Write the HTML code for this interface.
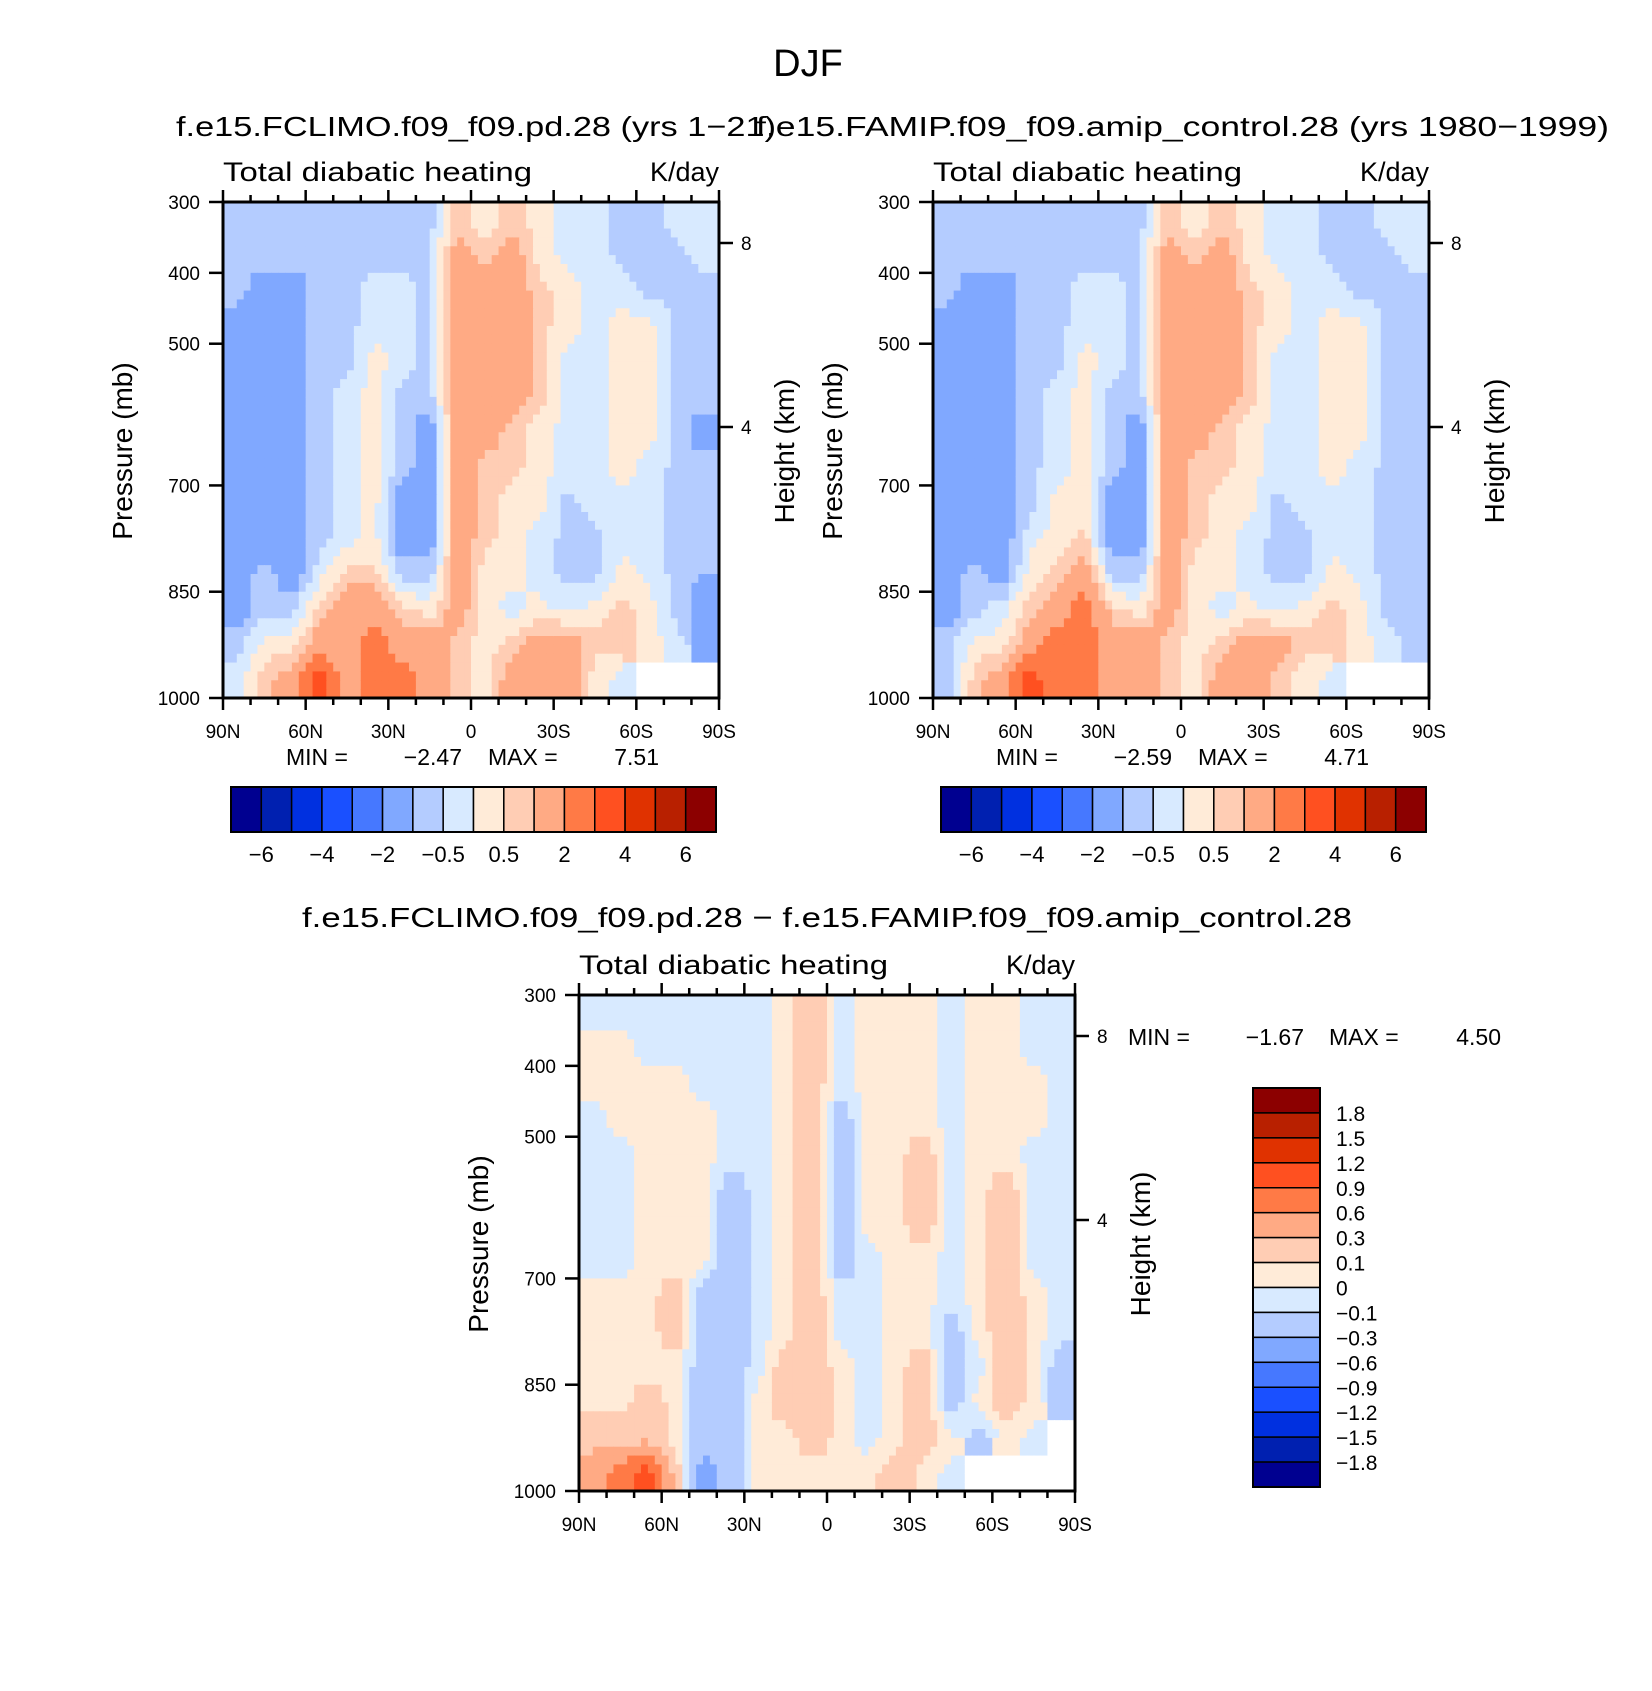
<!DOCTYPE html>
<html><head><meta charset="utf-8"><style>
html,body{margin:0;padding:0;background:#fff}
svg{display:block;font-family:"Liberation Sans",sans-serif}
</style></head><body>
<svg id="fig" width="1652" height="1691" viewBox="0 0 1652 1691" xmlns="http://www.w3.org/2000/svg">
<rect width="1652" height="1691" fill="#fff"/>
<text x="808" y="76" font-size="38" text-anchor="middle">DJF</text>
<g id="g1"></g><g id="g2"></g><g id="g3"></g>
</svg>
<script>
const lats=[85,75,65,55,45,35,25,15,5,-5,-15,-25,-35,-45,-55,-65,-75,-85];
const pres=[325,375,425,475,525,575,625,675,725,775,825,875,925,975];
const palette=["#000090","#0020b0","#0030e0","#1a50ff","#4678ff","#80a8ff","#b4ccff","#d8eaff","#ffebd8","#ffcdb4","#ffaa84","#ff7a46","#ff5020","#e03200","#b82000","#8c0000"];
const levelsAbs=[-6,-5,-4,-3,-2,-1,-0.5,0,0.5,1,2,3,4,5,6];
const levelsDiff=[-1.8,-1.5,-1.2,-0.9,-0.6,-0.3,-0.1,0,0.1,0.3,0.6,0.9,1.2,1.5,1.8];
const cbLabelsAbs=["−6","−4","−2","−0.5","0.5","2","4","6"];
const cbLabelsDiff=["1.8","1.5","1.2","0.9","0.6","0.3","0.1","0","−0.1","−0.3","−0.6","−0.9","−1.2","−1.5","−1.8"];
const latTicks=["90N","60N","30N","0","30S","60S","90S"];
const presTicks=[300,400,500,700,850,1000];
const N=NaN;
const field1=[
[-0.7,-0.7,-0.7,-0.7,-0.7,-0.7,-0.7,-0.7,0.7,0.2,0.7,0.2,-0.2,-0.2,-0.7,-0.7,-0.2,-0.2],
[-0.7,-0.7,-0.7,-0.7,-0.7,-0.7,-0.7,-0.7,1.5,0.7,1.5,0.2,-0.2,-0.2,-0.7,-0.7,-0.7,-0.2],
[-0.7,-1.5,-1.5,-0.7,-0.7,-0.2,-0.2,-0.7,1.5,1.5,1.5,0.7,0.2,-0.2,-0.2,-0.7,-0.7,-0.7],
[-1.5,-1.5,-1.5,-0.7,-0.7,-0.2,-0.2,-0.7,1.5,1.5,1.5,0.7,0.2,-0.2,0.2,0.2,-0.7,-0.7],
[-1.5,-1.5,-1.5,-0.7,-0.7,0.2,-0.2,-0.7,1.5,1.5,1.5,0.7,-0.2,-0.2,0.2,0.2,-0.7,-0.7],
[-1.5,-1.5,-1.5,-0.7,-0.2,0.2,-0.7,-0.7,1.5,1.5,1.5,0.7,-0.2,-0.2,0.2,0.2,-0.7,-0.7],
[-1.5,-1.5,-1.5,-0.7,-0.2,0.2,-0.7,-1.5,1.5,1.5,0.7,0.2,-0.2,-0.2,0.2,0.2,-0.7,-1.5],
[-1.5,-1.5,-1.5,-0.7,-0.2,0.2,-0.7,-1.5,1.5,0.7,0.7,0.2,-0.2,-0.2,0.2,-0.2,-0.7,-0.7],
[-1.5,-1.5,-1.5,-0.7,-0.2,0.2,-1.5,-1.5,1.5,0.7,0.2,0.2,-0.7,-0.2,-0.2,-0.2,-0.7,-0.7],
[-1.5,-1.5,-1.5,-0.7,-0.2,0.2,-1.5,-1.5,1.5,0.7,0.2,-0.2,-0.7,-0.7,-0.2,-0.2,-0.7,-0.7],
[-1.5,-0.7,-1.5,-0.2,0.7,0.7,-0.7,-0.7,1.5,0.2,0.2,-0.2,-0.7,-0.7,0.2,-0.2,-0.7,-1.0],
[-1.5,-0.7,-0.7,0.7,1.5,1.5,0.7,0.2,1.5,0.2,-0.2,0.2,-0.2,0.2,0.7,0.2,-0.7,-1.5],
[-0.7,0.2,0.2,1.5,1.5,2.5,1.5,1.5,0.7,0.2,0.7,1.5,1.5,0.7,0.7,0.2,-0.2,-1.5],
[-0.2,0.7,1.5,3.5,1.5,2.5,2.5,1.5,0.7,0.2,1.5,1.5,1.5,0.2,-0.2,N,N,N]];
const field2=[
[-0.7,-0.7,-0.7,-0.7,-0.7,-0.7,-0.7,-0.7,0.7,0.2,0.7,0.2,-0.2,-0.2,-0.7,-0.7,-0.2,-0.2],
[-0.7,-0.7,-0.7,-0.7,-0.7,-0.7,-0.7,-0.7,1.5,0.7,1.5,0.2,-0.2,-0.2,-0.7,-0.7,-0.7,-0.2],
[-0.7,-1.5,-1.5,-0.7,-0.7,-0.2,-0.2,-0.7,1.5,1.5,1.5,0.7,0.2,-0.2,-0.2,-0.7,-0.7,-0.7],
[-1.5,-1.5,-1.5,-0.7,-0.7,-0.2,-0.2,-0.7,1.5,1.5,1.5,0.7,0.2,-0.2,0.2,0.2,-0.7,-0.7],
[-1.5,-1.5,-1.5,-0.7,-0.7,0.2,-0.2,-0.7,1.5,1.5,1.5,0.7,-0.2,-0.2,0.2,0.2,-0.7,-0.7],
[-1.5,-1.5,-1.5,-0.7,-0.2,0.2,-0.7,-0.7,1.5,1.5,1.5,0.7,-0.2,-0.2,0.2,0.2,-0.7,-0.7],
[-1.5,-1.5,-1.5,-0.7,-0.2,0.2,-0.7,-1.5,1.5,1.5,0.7,0.2,-0.2,-0.2,0.2,0.2,-0.7,-0.7],
[-1.5,-1.5,-1.5,-0.7,-0.2,0.2,-0.7,-1.5,1.5,0.7,0.7,0.2,-0.2,-0.2,0.2,-0.2,-0.7,-0.7],
[-1.5,-1.5,-1.5,-0.7,0.2,0.2,-1.5,-1.5,1.5,0.7,0.2,0.2,-0.7,-0.2,-0.2,-0.2,-0.7,-0.7],
[-1.5,-1.5,-1.5,-0.2,0.2,0.7,-1.5,-1.5,1.5,0.7,0.2,-0.2,-0.7,-0.7,-0.2,-0.2,-0.7,-0.7],
[-1.5,-0.7,-1.5,0.2,0.7,1.5,-0.7,-0.7,1.5,0.2,0.2,-0.2,-0.7,-0.7,0.2,-0.2,-0.7,-0.7],
[-1.5,-0.7,-0.2,0.7,1.5,2.5,0.7,0.2,1.5,0.2,-0.2,0.2,-0.2,0.2,0.7,0.2,-0.7,-0.7],
[-0.7,0.2,0.2,1.5,2.5,2.5,1.5,1.5,0.7,0.2,0.7,1.5,1.5,0.7,0.7,0.2,-0.2,-0.7],
[-0.7,0.7,1.5,3.5,2.5,2.5,1.5,1.5,0.7,0.2,1.5,1.5,0.7,0.2,-0.2,N,N,N]];
const field3=[
[-0.05,-0.05,-0.05,-0.05,-0.05,-0.05,-0.05,0.05,0.2,-0.05,0.05,0.05,0.05,-0.05,0.05,0.05,-0.05,-0.05],
[0.05,0.05,-0.05,-0.05,-0.05,-0.05,-0.05,0.05,0.2,-0.05,0.05,0.05,0.05,-0.05,0.05,0.05,-0.05,-0.05],
[0.05,0.05,0.05,0.05,-0.05,-0.05,-0.05,0.05,0.2,-0.05,0.05,0.05,0.05,-0.05,0.05,0.05,0.05,-0.05],
[-0.05,0.05,0.05,0.05,0.05,-0.05,-0.05,0.05,0.2,-0.2,0.05,0.05,0.05,-0.05,0.05,0.05,0.05,-0.05],
[-0.05,-0.05,0.05,0.05,0.05,-0.05,-0.05,0.05,0.2,-0.2,0.05,0.05,0.2,-0.05,0.05,0.05,-0.05,-0.05],
[-0.05,-0.05,0.05,0.05,0.05,-0.2,-0.05,0.05,0.2,-0.2,0.05,0.05,0.2,-0.05,0.05,0.2,-0.05,-0.05],
[-0.05,-0.05,0.05,0.05,0.05,-0.2,-0.05,0.05,0.2,-0.2,0.05,0.05,0.2,-0.05,0.05,0.2,-0.05,-0.05],
[-0.05,-0.05,0.05,0.05,0.05,-0.2,-0.05,0.05,0.2,-0.2,-0.05,0.05,0.05,-0.05,0.05,0.2,-0.05,-0.05],
[0.05,0.05,0.05,0.2,-0.2,-0.2,-0.05,0.05,0.2,-0.05,-0.05,0.05,0.05,-0.05,0.05,0.2,0.05,-0.05],
[0.05,0.05,0.05,0.2,-0.2,-0.2,-0.05,0.05,0.2,-0.05,-0.05,0.05,0.05,-0.2,0.05,0.2,0.05,-0.05],
[0.05,0.05,0.05,0.05,-0.2,-0.2,-0.05,0.2,0.2,0.05,-0.05,0.05,0.2,-0.2,-0.05,0.2,0.05,-0.2],
[0.05,0.05,0.2,0.05,-0.2,-0.2,0.05,0.2,0.2,0.05,-0.05,0.05,0.2,-0.2,0.05,0.2,0.05,-0.2],
[0.2,0.2,0.2,0.05,-0.2,-0.2,0.05,0.05,0.2,0.05,-0.05,0.05,0.2,0.05,-0.2,0.05,-0.05,N],
[0.45,0.75,1.05,0.2,-0.45,-0.2,0.05,0.05,0.05,0.05,0.05,0.2,0.05,-0.05,N,N,N,N]];

const NS="http://www.w3.org/2000/svg";
function mk(parent,tag,attrs,text){const e=document.createElementNS(NS,tag);for(const k in attrs)e.setAttribute(k,attrs[k]);if(text!==undefined)e.textContent=text;parent.appendChild(e);return e;}
function colorFor(v,levels){if(isNaN(v))return "#ffffff";let i=0;while(i<levels.length&&v>=levels[i])i++;return palette[i];}
function sample(f,fi,fj){
  fi=Math.max(0,Math.min(lats.length-1,fi));fj=Math.max(0,Math.min(pres.length-1,fj));
  const i0=Math.floor(fi),j0=Math.floor(fj),i1=Math.min(i0+1,lats.length-1),j1=Math.min(j0+1,pres.length-1);
  const a=fi-i0,b=fj-j0;
  const v00=f[j0][i0],v10=f[j0][i1],v01=f[j1][i0],v11=f[j1][i1];
  if([v00,v10,v01,v11].some(isNaN)){const ni=a<0.5?i0:i1,nj=b<0.5?j0:j1;return f[nj][ni];}
  return v00*(1-a)*(1-b)+v10*a*(1-b)+v01*(1-a)*b+v11*a*b;
}
function panel(g,L,T,field,levels,opts){
  const W=496,H=496;
  const xs=lat=>L+(90-lat)/180*W;
  const ys=p=>T+(p-300)/700*H;
  const cells=mk(g,'g',{});
  
  
  const sub=4;
  for(let j=0;j<pres.length;j++)for(let i=0;i<lats.length;i++){
    for(let sj=0;sj<sub;sj++)for(let si=0;si<sub;si++){
      const lat0=lats[i]+5-si*10/sub, p0=pres[j]-25+sj*50/sub;
      const latc=lat0-5/sub, pc=p0+25/sub;
      const v=sample(field,(lats[0]-latc)/10,(pc-pres[0])/50);
      const x0=xs(lat0),y0=ys(p0),x1=xs(lat0-10/sub),y1=ys(p0+50/sub);
      const r=mk(cells,'rect',{x:x0.toFixed(2),y:y0.toFixed(2),width:(x1-x0+0.6).toFixed(2),height:(y1-y0+0.6).toFixed(2),fill:colorFor(v,levels)});
      
      
    }
  }
  const fr=mk(g,'rect',{x:L,y:T,width:W,height:H,fill:'none',stroke:'#000','stroke-width':3});
  
  
  for(let lat=90;lat>=-90;lat-=10){
    const major=lat%30===0,len=major?12:7,x=xs(lat);
    mk(g,'line',{x1:x,x2:x,y1:T,y2:T-len,stroke:'#000','stroke-width':2.5});
    mk(g,'line',{x1:x,x2:x,y1:T+H,y2:T+H+len,stroke:'#000','stroke-width':2.5});
  }
  latTicks.forEach((t,k)=>{const e=mk(g,'text',{x:xs(90-k*30),y:T+H+40,'font-size':19,'text-anchor':'middle'},t);
    });
  presTicks.forEach(p=>{mk(g,'line',{x1:L-14,x2:L,y1:ys(p),y2:ys(p),stroke:'#000','stroke-width':2.5});
    const e=mk(g,'text',{x:L-23,y:ys(p)+7,'font-size':19,'text-anchor':'end'},String(p));
    });
  [[8,41],[4,225]].forEach(([h,dy])=>{mk(g,'line',{x1:L+W,x2:L+W+14,y1:T+dy,y2:T+dy,stroke:'#000','stroke-width':2.5});
    const e=mk(g,'text',{x:L+W+22,y:T+dy+7,'font-size':19},String(h));
    });
  const a=mk(g,'text',{x:L,y:T-21,'font-size':27,textLength:309,lengthAdjust:'spacingAndGlyphs'},'Total diabatic heating');
  
  const u=mk(g,'text',{x:L+W,y:T-21,'font-size':27,'text-anchor':'end'},'K/day');
  
  const yl=mk(g,'text',{x:0,y:0,'font-size':28,'text-anchor':'middle',transform:`translate(${L-91},${T+249}) rotate(-90)`},'Pressure (mb)');
  
  const hl=mk(g,'text',{x:0,y:0,'font-size':28,'text-anchor':'middle',transform:`translate(${L+W+75},${T+249}) rotate(-90)`},'Height (km)');
  
  const m=opts.minmax;
  [[m[0],'start'],[m[1],'end'],[m[2],'start'],[m[3],'end']].forEach(([t,anc],k)=>{
    const e=mk(g,'text',{x:opts.mmx[k],y:opts.mmy,'font-size':23,'text-anchor':anc},t);
    });
}
function hbar(g,L,T,W,H,labels){
  const n=palette.length,bw=W/n;
  palette.forEach((c,i)=>{const r=mk(g,'rect',{x:L+i*bw,y:T,width:bw,height:H,fill:c,stroke:'#000','stroke-width':1.5});
    });
  mk(g,'rect',{x:L,y:T,width:W,height:H,fill:'none',stroke:'#000','stroke-width':2});
  labels.forEach((t,k)=>{const e=mk(g,'text',{x:L+(2*k+1)*bw,y:T+H+30,'font-size':22,'text-anchor':'middle'},t);
    });
}
function vbar(g,L,T,W,H,labels){
  const n=palette.length,bh=H/n;
  palette.slice().reverse().forEach((c,i)=>{const r=mk(g,'rect',{x:L,y:T+i*bh,width:W,height:bh,fill:c,stroke:'#000','stroke-width':1.5});
    });
  mk(g,'rect',{x:L,y:T,width:W,height:H,fill:'none',stroke:'#000','stroke-width':2});
  labels.forEach((t,k)=>{const e=mk(g,'text',{x:L+W+16,y:T+(k+1)*bh+8,'font-size':21},t);
    });
}
const g1=document.getElementById('g1'),g2=document.getElementById('g2'),g3=document.getElementById('g3');



panel(g1,223,202,field1,levelsAbs,{minmax:['MIN =','−2.47','MAX =','7.51'],mmx:[286,462,488,659],mmy:765});
panel(g2,933,202,field2,levelsAbs,{minmax:['MIN =','−2.59','MAX =','4.71'],mmx:[996,1172,1198,1369],mmy:765});
panel(g3,579,995,field3,levelsDiff,{minmax:['MIN =','−1.67','MAX =','4.50'],mmx:[1128,1304,1329,1501],mmy:1045});
hbar(g1,231,787,485,45,cbLabelsAbs);
hbar(g2,941,787,485,45,cbLabelsAbs);
vbar(g3,1253,1088,67,399,cbLabelsDiff);
const svg=document.getElementById('fig');
const t1=mk(svg,'text',{x:176,y:136,'font-size':28,textLength:600,lengthAdjust:'spacingAndGlyphs'},'f.e15.FCLIMO.f09_f09.pd.28 (yrs 1−21)');

const t2=mk(svg,'text',{x:756,y:136,'font-size':28,textLength:853,lengthAdjust:'spacingAndGlyphs'},'f.e15.FAMIP.f09_f09.amip_control.28 (yrs 1980−1999)');

const t3=mk(svg,'text',{x:302,y:927,'font-size':28,textLength:1050,lengthAdjust:'spacingAndGlyphs'},'f.e15.FCLIMO.f09_f09.pd.28 − f.e15.FAMIP.f09_f09.amip_control.28');

</script>
</body></html>
